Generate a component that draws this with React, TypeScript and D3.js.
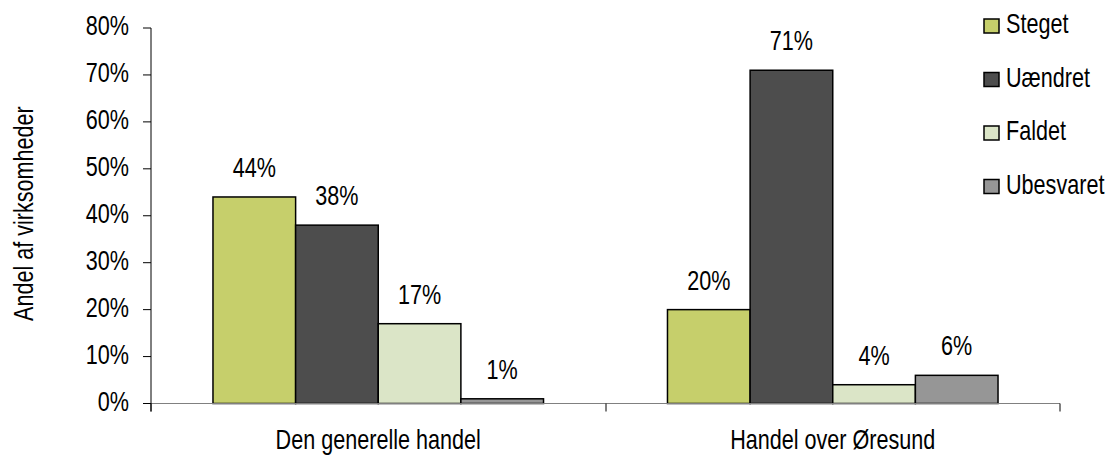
import React from "react";
import * as d3 from "d3";

const categories = ["Den generelle handel", "Handel over Øresund"];
const seriesNames = ["Steget", "Uændret", "Faldet", "Ubesvaret"];
const seriesColors = ["#c6cf6b", "#4d4d4d", "#dbe5c7", "#969696"];
const steget = [0.44, 0.2];
const uaendret = [0.38, 0.71];
const faldet = [0.17, 0.04];
const ubesvaret = [0.01, 0.06];
const yTicks = [0, 0.1, 0.2, 0.3, 0.4, 0.5, 0.6, 0.7, 0.8];
const yTitle = "Andel af virksomheder";

const W = 1108;
const H = 455;
const FONT = "'Liberation Sans', Arial, sans-serif";
const FS = 27;
const SX = 0.8;

function T(props: { x: number; y: number; anchor?: string; children: React.ReactNode; rotate?: number }) {
  const { x, y, anchor = "middle", children, rotate = 0 } = props;
  return (
    <text
      transform={`translate(${x},${y}) rotate(${rotate}) scale(${SX},1)`}
      textAnchor={anchor}
      fontFamily={FONT}
      fontSize={FS}
      fill="#000"
    >
      {children}
    </text>
  );
}

export default function App() {
  const values = [steget, uaendret, faldet, ubesvaret];
  const x0 = d3.scaleBand<string>().domain(categories).range([151, 1060]).padding(0);
  const x1 = d3
    .scaleBand<string>()
    .domain(seriesNames)
    .range([0, x0.bandwidth()])
    .paddingInner(0)
    .paddingOuter(0.75);
  const y = d3.scaleLinear().domain([0, 0.8]).range([403.5, 28]);
  const fmt = d3.format(".0%");
  const y0 = y(0);

  return (
    <svg width={W} height={H} style={{ position: "absolute", left: 0, top: 0, background: "#fff" }}>
      <defs>
        <clipPath id="ytclip">
          <rect x={0} y={104} width={60} height={300} />
        </clipPath>
      </defs>
      <rect x={0} y={0} width={W} height={H} fill="#fff" />
      {categories.map((c, ci) => (
        <g key={c}>
          {seriesNames.map((s, si) => {
            const v = values[si][ci];
            const bx = (x0(c) as number) + (x1(s) as number);
            const by = y(v);
            return (
              <g key={s}>
                <rect
                  x={bx}
                  y={by}
                  width={x1.bandwidth()}
                  height={y0 - by}
                  fill={seriesColors[si]}
                  stroke="#000"
                  strokeWidth={1.5}
                />
                <T x={bx + x1.bandwidth() / 2} y={by - 20}>
                  {fmt(v)}
                </T>
              </g>
            );
          })}
        </g>
      ))}
      <line x1={143} x2={1060} y1={y0} y2={y0} stroke="#808080" strokeWidth={1.2} />
      {[151, 606, 1060].map((tx, i) => (
        <line key={i} x1={tx} x2={tx} y1={y0} y2={y0 + 8} stroke="#000" strokeWidth={1} />
      ))}
      {categories.map((c) => (
        <T key={c} x={(x0(c) as number) + x0.bandwidth() / 2} y={449}>
          {c}
        </T>
      ))}
      <line x1={151} x2={151} y1={y(0.8)} y2={y0 + 8} stroke="#000" strokeWidth={1} />
      {yTicks.map((t) => (
        <g key={t}>
          <line x1={143} x2={151} y1={y(t)} y2={y(t)} stroke="#000" strokeWidth={1} />
          <T x={129} y={y(t) + 7} anchor="end">
            {fmt(t)}
          </T>
        </g>
      ))}
      <g clipPath="url(#ytclip)">
        <T x={33} y={321} anchor="start" rotate={-90}>
          {yTitle}
        </T>
      </g>
      {seriesNames.map((s, i) => {
        const cy = 26 + i * 53.5;
        return (
          <g key={s}>
            <rect x={984} y={cy - 7} width={15} height={14} fill={seriesColors[i]} stroke="#000" strokeWidth={1.5} />
            <T x={1006} y={cy + 7} anchor="start">
              {s}
            </T>
          </g>
        );
      })}
    </svg>
  );
}
